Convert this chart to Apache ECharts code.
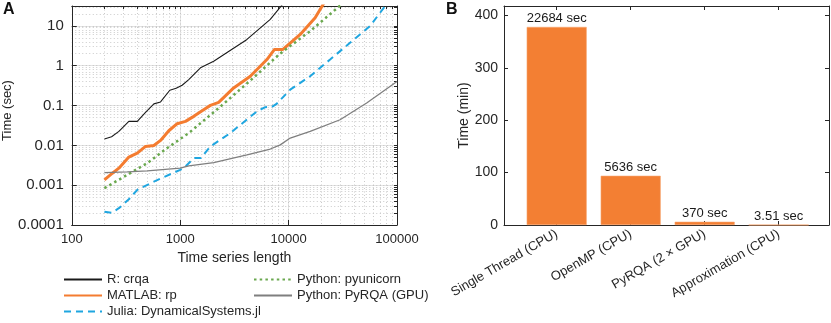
<!DOCTYPE html>
<html>
<head>
<meta charset="utf-8">
<script src="https://cdn.jsdelivr.net/npm/echarts@6/dist/echarts.min.js"></script>
<style>
  html, body { margin: 0; padding: 0; background: #fff; }
  #chart { width: 831px; height: 323px; }
</style>
</head>
<body>
<div id="chart"></div>
<script>
// ---- panel A: run time vs. time series length (log-log) ----
var crqaData = [[200,0.0144],[233,0.0165],[272,0.0224],[336,0.040],[402,0.040],[479,0.0675],[572,0.110],[659,0.123],[802,0.242],[918,0.271],[1042,0.323],[1199,0.449],[1538,0.885],[2037,1.30],[4130,4.57],[6775,14.6],[9500,45]];
var rpData = [[200,0.00136],[237,0.0020],[272,0.00268],[336,0.00507],[402,0.0064],[479,0.0094],[572,0.0099],[659,0.0133],[785,0.0233],[938,0.035],[1119,0.040],[1334,0.0535],[1593,0.0744],[1900,0.101],[2265,0.120],[3112,0.277],[4433,0.544],[6310,1.43],[7413,2.56],[8865,2.56],[12800,6.1],[17580,16.1],[21500,40]];
var juliaData = [[200,0.000216],[233,0.000202],[272,0.000264],[336,0.000443],[402,0.00076],[572,0.00123],[1000,0.00243],[1080,0.00268],[1334,0.00479],[1550,0.00479],[1900,0.0094],[2904,0.0204],[5103,0.0715],[6095,0.0912],[7000,0.092],[7800,0.112],[10350,0.251],[15800,0.545],[24150,1.43],[36860,3.77],[56300,9.9],[82000,38]];
var pyunicornData = [[200,0.00084],[325,0.00182],[497,0.00358],[759,0.00855],[1200,0.0204],[2350,0.0938],[4433,0.424],[8375,2.03],[15810,7.4],[30500,34]];
var pyrqaData = [[200,0.00207],[325,0.00216],[497,0.00228],[1000,0.00268],[1200,0.00307],[2037,0.0037],[4130,0.0058],[6775,0.0081],[8375,0.0103],[10350,0.0153],[15810,0.0224],[29850,0.044],[52500,0.116],[100000,0.40]];

var legendLeft = ['R: crqa', 'MATLAB: rp', 'Julia: DynamicalSystems.jl'];
var legendRight = ['Python: pyunicorn', 'Python: PyRQA (GPU)'];

// ---- panel B: whole-run time per implementation ----
var categories = ['Single Thread (CPU)', 'OpenMP (CPU)', 'PyRQA (2 \u00d7 GPU)', 'Approximation (CPU)'];
var barSeconds = [22684, 5636, 370, 3.51];
var barTicks = [0, 100, 200, 300, 400];

var ink = '#262626';
var font = "'Liberation Sans', Arial, Helvetica, sans-serif";

// minor grid positions, in decades, for the helper axes
function logGrid(from, to) {
  var out = [];
  for (var d = from; d < to; d++) {
    for (var k = 1; k <= 9; k++) out.push(d + Math.log10(k));
  }
  out.push(to);
  return out;
}
var xMinor = logGrid(2, 5);
var yMinor = logGrid(-4, 1).concat([1 + Math.log10(2), 1 + Math.log10(3)]);

var chart = echarts.init(document.getElementById('chart'), null, { renderer: 'canvas' });

var frameLine = { show: true, onZero: false, lineStyle: { color: ink, width: 1 } };
var dotted = { show: true, lineStyle: { color: '#bdbdbd', width: 0.8, type: [1, 2.5] } };

var legendCommon = {
  orient: 'vertical', top: 273, padding: 0,
  itemWidth: 38, itemHeight: 13, itemGap: 3,
  itemStyle: { opacity: 0 },
  textStyle: { fontSize: 13, color: ink, lineHeight: 13 }
};

var option = {
  animation: false,
  textStyle: { fontFamily: font },
  graphic: [
    { type: 'text', left: 3, top: 2, style: { text: 'A', font: 'bold 16px ' + font, fill: '#111' } },
    { type: 'text', left: 446, top: 2, style: { text: 'B', font: 'bold 16px ' + font, fill: '#111' } }
  ],
  legend: [
    Object.assign({ data: legendLeft, left: 63 }, legendCommon),
    Object.assign({ data: legendRight, left: 253 }, legendCommon)
  ],
  grid: [
    { left: 71, top: 6, width: 326, height: 219 },
    { left: 504, top: 6, width: 325, height: 219 }
  ],
  xAxis: [
    {
      gridIndex: 0, type: 'log', logBase: 10, min: 100, max: 100000, position: 'bottom',
      axisLine: frameLine,
      axisTick: { inside: true, length: 5, lineStyle: { color: ink } },
      axisLabel: { margin: 8, fontSize: 13, color: ink, formatter: function (v) { return String(+v.toPrecision(6)); } },
      splitLine: { show: true, lineStyle: { color: '#e4e4e4', width: 1 } },
      name: 'Time series length', nameLocation: 'middle', nameGap: 26,
      nameTextStyle: { fontSize: 14, color: ink }
    },
    {
      gridIndex: 0, type: 'value', min: 2, max: 5, position: 'top',
      axisLine: frameLine,
      axisTick: { inside: true, length: 3, customValues: xMinor, lineStyle: { color: ink } },
      axisLabel: { show: false },
      splitLine: dotted
    },
    {
      gridIndex: 1, type: 'value', min: 0.288, max: 4.68, position: 'bottom',
      axisLine: frameLine,
      axisTick: { inside: true, length: 4, customValues: [1, 2, 3, 4], lineStyle: { color: ink } },
      axisLabel: {
        customValues: [1, 2, 3, 4], rotate: 30, margin: 8, fontSize: 13, color: ink,
        formatter: function (v) { return categories[Math.round(v) - 1]; }
      },
      splitLine: { show: false }
    },
    {
      gridIndex: 1, type: 'value', min: 0.288, max: 4.68, position: 'top',
      axisLine: frameLine,
      axisTick: { inside: true, length: 4, customValues: [1, 2, 3, 4], lineStyle: { color: ink } },
      axisLabel: { show: false },
      splitLine: { show: false }
    }
  ],
  yAxis: [
    {
      gridIndex: 0, type: 'log', logBase: 10, min: 0.0001, max: 31.6228, position: 'left',
      axisLine: frameLine,
      axisTick: { inside: true, length: 5, lineStyle: { color: ink } },
      axisLabel: {
        margin: 8, fontSize: 15, color: ink, showMaxLabel: false,
        formatter: function (v) {
          var e = Math.log10(v);
          return Math.abs(e - Math.round(e)) < 1e-6 ? String(+v.toPrecision(6)) : '';
        }
      },
      splitLine: { show: true, lineStyle: { color: '#e4e4e4', width: 1 } },
      name: 'Time (sec)', nameLocation: 'middle', nameGap: 50,
      nameTextStyle: { fontSize: 13, color: ink, padding: [0, 0, 0, 10] }
    },
    {
      gridIndex: 0, type: 'value', min: -4, max: 1.5, position: 'right',
      axisLine: frameLine,
      axisTick: { inside: true, length: 3, customValues: yMinor, lineStyle: { color: ink } },
      axisLabel: { show: false },
      splitLine: dotted
    },
    {
      gridIndex: 1, type: 'value', min: 0, max: 418, position: 'left',
      axisLine: frameLine,
      axisTick: { inside: true, length: 4, customValues: barTicks, lineStyle: { color: ink } },
      axisLabel: { customValues: barTicks, margin: 6, fontSize: 14, color: ink },
      splitLine: { show: false },
      name: 'Time (min)', nameLocation: 'middle', nameGap: 32,
      nameTextStyle: { fontSize: 14, color: ink }
    },
    {
      gridIndex: 1, type: 'value', min: 0, max: 418, position: 'right',
      axisLine: frameLine,
      axisTick: { inside: true, length: 4, customValues: barTicks, lineStyle: { color: ink } },
      axisLabel: { show: false },
      splitLine: { show: false }
    }
  ],
  series: [
    {
      name: 'R: crqa', type: 'line', xAxisIndex: 0, yAxisIndex: 0, symbol: 'none',
      lineStyle: { color: '#1a1a1a', width: 1.1 }, itemStyle: { color: '#1a1a1a' },
      data: crqaData
    },
    {
      name: 'MATLAB: rp', type: 'line', xAxisIndex: 0, yAxisIndex: 0, symbol: 'none',
      lineStyle: { color: '#f47c30', width: 3 }, itemStyle: { color: '#f47c30' },
      data: rpData
    },
    {
      name: 'Julia: DynamicalSystems.jl', type: 'line', xAxisIndex: 0, yAxisIndex: 0, symbol: 'none',
      lineStyle: { color: '#1fa6e0', width: 2, type: [7, 5] }, itemStyle: { color: '#1fa6e0' },
      data: juliaData
    },
    {
      name: 'Python: pyunicorn', type: 'line', xAxisIndex: 0, yAxisIndex: 0, symbol: 'none',
      lineStyle: { color: '#6aa84f', width: 2.5, type: [2.5, 3.2] }, itemStyle: { color: '#6aa84f' },
      data: pyunicornData
    },
    {
      name: 'Python: PyRQA (GPU)', type: 'line', xAxisIndex: 0, yAxisIndex: 0, symbol: 'none',
      lineStyle: { color: '#7f7f7f', width: 1.3 }, itemStyle: { color: '#7f7f7f' },
      data: pyrqaData
    },
    {
      name: 'runtime', type: 'bar', xAxisIndex: 2, yAxisIndex: 2, barWidth: 60,
      itemStyle: { color: '#f37f33', borderColor: '#f6a36c', borderWidth: 0.6 },
      label: {
        show: true, position: 'top', distance: 2, fontSize: 13, color: '#1a1a1a',
        formatter: function (p) { return barSeconds[p.dataIndex] + ' sec'; }
      },
      data: barSeconds.map(function (s, i) { return [i + 1, s / 60]; })
    }
  ]
};

chart.setOption(option);
</script>
</body>
</html>
